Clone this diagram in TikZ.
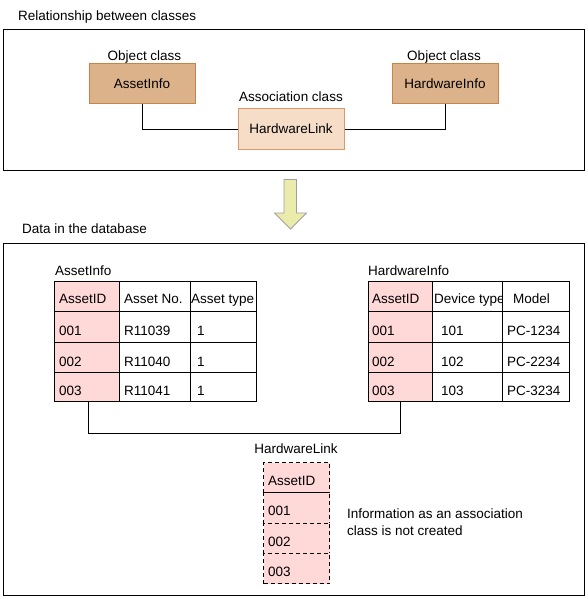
\documentclass[tikz,border=0pt]{standalone}
\usepackage{fontspec}
\setmainfont{Liberation Sans}
\definecolor{objfill}{HTML}{DCB28A}
\definecolor{objdraw}{HTML}{C4844A}
\definecolor{assocfill}{HTML}{F6DDC8}
\definecolor{assocdraw}{HTML}{D99A68}
\definecolor{keyfill}{HTML}{FFD8D8}
\definecolor{arrowfill}{HTML}{EBEBAC}
\definecolor{arrowdraw}{HTML}{A0A0A0}
\tikzset{
  txt/.style={font=\fontsize{13.5}{15}\selectfont, inner sep=0pt},
  frame/.style={draw=black, line width=1pt, rectangle, inner sep=0pt, anchor=north west},
  objbox/.style={draw=objdraw, fill=objfill, line width=1pt, rectangle, minimum width=106pt, minimum height=40pt, inner sep=0pt, font=\fontsize{13.5}{15}\selectfont},
  assocbox/.style={draw=assocdraw, fill=assocfill, line width=1pt, rectangle, minimum width=106pt, minimum height=40pt, inner sep=0pt, font=\fontsize{13.5}{15}\selectfont},
  cellbox/.style={draw=black, line width=1pt, rectangle, inner sep=0pt},
  keycell/.style={fill=keyfill},
  plaincell/.style={fill=white},
  dashcell/.style={fill=keyfill, dashed, dash pattern=on 4pt off 3pt},
  conn/.style={draw=black, line width=1pt},
}
% name, x, y, width, height, style, xoffset, yoffset, text
\newcommand\mycell[9]{%
  \node[cellbox,#6,minimum width=#4pt,minimum height=#5pt,anchor=north west] (#1) at (#2,#3) {};
  \node[txt,anchor=base west] at ([xshift=#7pt,yshift=-#8pt]#1.west) {#9};
}
\begin{document}
\begin{tikzpicture}[x=1pt,y=-1pt]
\useasboundingbox (0,0) rectangle (587,599);

% ---------- top part ----------
\node[txt,anchor=base west] (title1) at (18,20.5) {Relationship between classes};
\node[frame,minimum width=581pt,minimum height=141pt] (topframe) at (3,29) {};

\node[objbox] (assetinfo) at (142,84) {AssetInfo};
\node[objbox] (hardwareinfo) at (445,84) {HardwareInfo};
\node[assocbox] (hardwarelink) at (291,129) {HardwareLink};

\node[txt,anchor=base] (lbl1) at (144.5,61) {Object class};
\node[txt,anchor=base] (lbl2) at (444,61) {Object class};
\node[txt,anchor=base] (lbl3) at (291,101.5) {Association class};

\draw[conn] (assetinfo.south) |- (hardwarelink.west);
\draw[conn] (hardwarelink.east) -| (hardwareinfo.south);

% ---------- arrow ----------
\draw[draw=arrowdraw, fill=arrowfill, line width=0.8pt]
  (284,179.5) -- (296.5,179.5) -- (296.5,213) -- (306.5,213) -- (290.5,229)
  -- (274.5,213) -- (284,213) -- cycle;

% ---------- bottom part ----------
\node[txt,anchor=base west] (title2) at (22,233) {Data in the database};
\node[frame,minimum width=581pt,minimum height=352pt] (botframe) at (3,243) {};

% AssetInfo table
\node[txt,anchor=base west] (tlbl1) at (55,275) {AssetInfo};
\mycell{a11}{54}{281}{65}{30}{keycell}{5}{7}{AssetID}
\mycell{a12}{119}{281}{71}{30}{plaincell}{5}{7}{Asset No.}
\mycell{a13}{190}{281}{66}{30}{plaincell}{1}{7}{Asset type}
\mycell{a21}{54}{311}{65}{31}{keycell}{5}{8.5}{001}
\mycell{a22}{119}{311}{71}{31}{plaincell}{5}{8.5}{R11039}
\mycell{a23}{190}{311}{66}{31}{plaincell}{7}{8.5}{1}
\mycell{a31}{54}{342}{65}{30}{keycell}{5}{8.5}{002}
\mycell{a32}{119}{342}{71}{30}{plaincell}{5}{8.5}{R11040}
\mycell{a33}{190}{342}{66}{30}{plaincell}{7}{8.5}{1}
\mycell{a41}{54}{372}{65}{29}{keycell}{5}{8.5}{003}
\mycell{a42}{119}{372}{71}{29}{plaincell}{5}{8.5}{R11041}
\mycell{a43}{190}{372}{66}{29}{plaincell}{7}{8.5}{1}

% HardwareInfo table
\node[txt,anchor=base west] (tlbl2) at (368,275) {HardwareInfo};
\mycell{h11}{368}{281}{64}{30}{keycell}{4}{7}{AssetID}
\mycell{h12}{432}{281}{70}{30}{plaincell}{2}{7}{Device type}
\mycell{h13}{502}{281}{67}{30}{plaincell}{11}{7}{Model}
\mycell{h21}{368}{311}{64}{31}{keycell}{4}{8.5}{001}
\mycell{h22}{432}{311}{70}{31}{plaincell}{9}{8.5}{101}
\mycell{h23}{502}{311}{67}{31}{plaincell}{5}{8.5}{PC-1234}
\mycell{h31}{368}{342}{64}{30}{keycell}{4}{8.5}{002}
\mycell{h32}{432}{342}{70}{30}{plaincell}{9}{8.5}{102}
\mycell{h33}{502}{342}{67}{30}{plaincell}{5}{8.5}{PC-2234}
\mycell{h41}{368}{372}{64}{29}{keycell}{4}{8.5}{003}
\mycell{h42}{432}{372}{70}{29}{plaincell}{9}{8.5}{103}
\mycell{h43}{502}{372}{67}{29}{plaincell}{5}{8.5}{PC-3234}

\draw[conn] ([xshift=1.5pt]a41.south) -- ++(0,31) -| (h41.south);

% HardwareLink table (not created)
\node[txt,anchor=base] (tlbl3) at (296,453) {HardwareLink};
\mycell{l1}{263}{462}{66}{30.25}{dashcell}{5}{8}{AssetID}
\mycell{l2}{263}{492.25}{66}{30.25}{dashcell}{5}{8}{001}
\mycell{l3}{263}{522.5}{66}{30.25}{dashcell}{5}{8}{002}
\mycell{l4}{263}{552.75}{66}{30.25}{dashcell}{5}{8}{003}

\node[txt,anchor=base west] (note1) at (347,518) {Information as an association};
\node[txt,anchor=base west] (note2) at (347,535) {class is not created};
\end{tikzpicture}
\end{document}
